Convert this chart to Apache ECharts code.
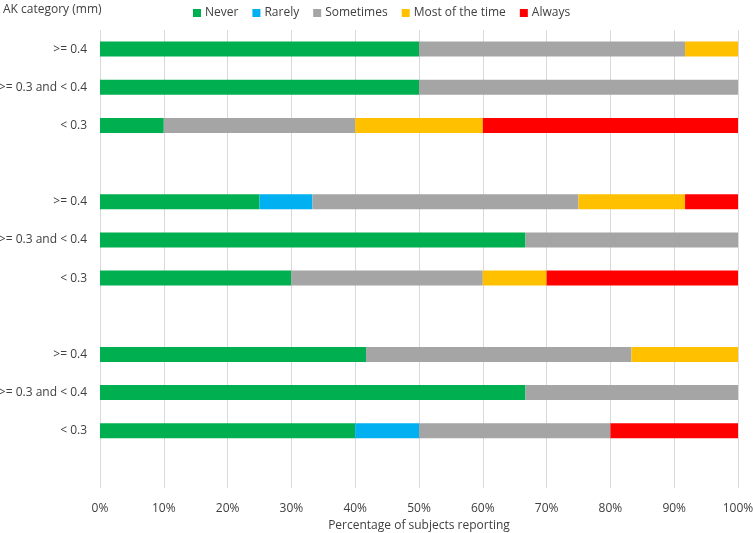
<!DOCTYPE html>
<html>
<head>
<meta charset="utf-8">
<script src="https://cdn.jsdelivr.net/npm/echarts@6/dist/echarts.min.js"></script>
<style>html,body{margin:0;padding:0;background:#fff;overflow:hidden;width:753px;height:533px;}#c{position:absolute;left:0;top:0;width:753px;height:533px;}</style>
</head>
<body>
<div id="c"></div>
<script>
// Row labels (top to bottom); '' marks the blank spacer rows between groups
const categories = ['>= 0.4', '>= 0.3 and < 0.4', '< 0.3', '',
                    '>= 0.4', '>= 0.3 and < 0.4', '< 0.3', '',
                    '>= 0.4', '>= 0.3 and < 0.4', '< 0.3', ''];
const seriesNames = ['Never', 'Rarely', 'Sometimes', 'Most of the time', 'Always'];
const never     = [50,   50,   10, null, 25,   66.7, 30, null, 41.7, 66.7, 40, null];
const rarely    = [0,    0,    0,  null, 8.3,  0,    0,  null, 0,    0,    10, null];
const sometimes = [41.7, 50,   30, null, 41.7, 33.3, 30, null, 41.6, 33.3, 30, null];
const mostTime  = [8.3,  0,    20, null, 16.7, 0,    10, null, 16.7, 0,    0,  null];
const always    = [0,    0,    40, null, 8.3,  0,    30, null, 0,    0,    20, null];
const xTicks = ['0%','10%','20%','30%','40%','50%','60%','70%','80%','90%','100%'];

const colors = ['#00B050', '#00B0F0', '#A5A5A5', '#FFC000', '#FF0000'];
const values = [never, rarely, sometimes, mostTime, always];

const chart = echarts.init(document.getElementById('c'), null, {renderer: 'canvas', width: 753, height: 533});
chart.setOption({
  animation: false,
  textStyle: {fontFamily: 'Open Sans, Noto Sans, sans-serif'},
  title: {
    text: 'AK category (mm)', left: -2, top: -1,
    textStyle: {fontSize: 12, fontWeight: 'normal', color: '#404040'}
  },
  legend: {
    data: seriesNames, left: 188, top: 2,
    itemWidth: 8, itemHeight: 8, itemGap: 14,
    icon: 'rect',
    textStyle: {fontSize: 12, color: '#404040', padding: [0,0,0,-1]}
  },
  grid: {left: 100, right: 15, top: 30, bottom: 45, containLabel: false, outerBoundsMode: 'none'},
  xAxis: {
    type: 'value', min: 0, max: 100, interval: 10,
    name: 'Percentage of subjects reporting', nameLocation: 'middle', nameGap: 32,
    nameTextStyle: {fontSize: 12, color: '#404040'},
    axisLine: {show: false}, axisTick: {show: false},
    axisLabel: {fontSize: 12, color: '#404040', margin: 15,
      formatter: function (v) { return xTicks[Math.round(v / 10)]; }},
    splitLine: {show: true, lineStyle: {color: '#D9D9D9', width: 1}}
  },
  yAxis: {
    type: 'category', inverse: true, data: categories,
    axisLine: {show: false}, axisTick: {show: false},
    axisLabel: {fontSize: 12, color: '#404040', margin: 13, interval: 0},
    splitLine: {show: false}
  },
  series: seriesNames.map(function (n, i) {
    return {
      name: n, type: 'bar', stack: 'total', barWidth: 15,
      itemStyle: {color: colors[i]},
      data: values[i]
    };
  })
});
</script>
</body>
</html>
